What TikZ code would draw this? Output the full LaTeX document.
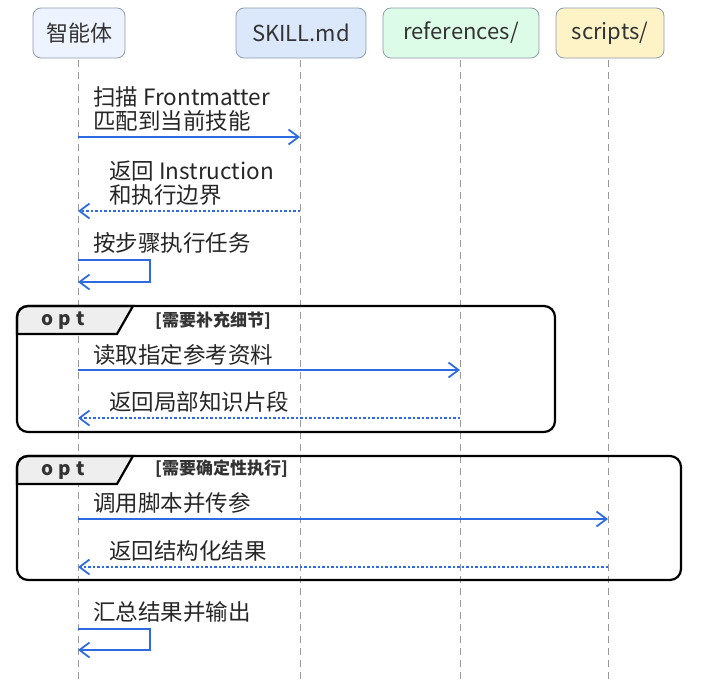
\documentclass[tikz,border=0pt]{standalone}
\usepackage{fontspec}
\setmainfont{Noto Sans CJK SC}
\usetikzlibrary{arrows.meta,positioning}
\definecolor{msgblue}{HTML}{2F6BE0}
\definecolor{hdrline}{HTML}{8F9CB0}
\definecolor{agentfill}{HTML}{EEF4FF}
\definecolor{skillfill}{HTML}{DBE8FC}
\definecolor{reffill}{HTML}{DCFCE7}
\definecolor{scriptfill}{HTML}{FEF3C7}
\definecolor{tabfill}{HTML}{EEEEEE}
\tikzset{
  hdr/.style={draw=hdrline, line width=0.8pt, rounded corners=8pt, minimum height=50pt, inner xsep=10pt, font=\fontsize{22}{26}\selectfont, text=black!80},
  life/.style={gray!80, dash pattern=on 7pt off 5pt, line width=0.7pt},
  msg/.style={msgblue, line width=1.5pt, -{Straight Barb[length=10pt,width=15pt,line width=1.8pt]}},
  ret/.style={msg, dash pattern=on 2.5pt off 2pt},
  lbl/.style={anchor=west, font=\fontsize{22.5}{24}\selectfont, text=black!85, inner sep=0pt, align=left},
  frame/.style={draw=black, line width=2.2pt, rounded corners=11pt},
  tab/.style={line width=2.2pt, fill=tabfill},
  optlbl/.style={font=\bfseries\fontsize{19}{20}\selectfont, text=black!80},
  cond/.style={font=\bfseries\fontsize{17}{19}\selectfont, text=black!80, anchor=west, inner sep=0pt},
}
\begin{document}
\begin{tikzpicture}[x=1pt,y=-1pt]
  \useasboundingbox (0,0) rectangle (707,680);

  % participants
  \node[hdr, fill=agentfill, minimum width=92pt] (agent) at (79,33) {智能体};
  \node[hdr, fill=skillfill, minimum width=130pt] (skill) at (301,33) {SKILL.md};
  \node[hdr, fill=reffill, minimum width=156pt] (refs) at (461,33) {references/};
  \node[hdr, fill=scriptfill, minimum width=108pt] (scripts) at (610,33) {scripts/};

  % lifelines
  \foreach \p/\x in {agent/78,skill/300,refs/460,scripts/608}{
    \coordinate (\p-top) at (\x,60);
    \coordinate (\p-end) at (\x,680);
    \draw[life] (\p-top) -- (\p-end);
  }

  % opt frames
  \draw[tab] (17,334) -- (17,316) [rounded corners=11pt] -- (17,306) [sharp corners] -- (133,306) -- (117,334) -- cycle;
  \draw[frame] (17,306) rectangle (555,432);
  \node[optlbl] (opt1) at (63,321) {o\;p\;t};
  \node[cond] (cond1) at (155,321) {[需要补充细节]};

  \draw[tab] (17,484) -- (17,466) [rounded corners=11pt] -- (17,456) [sharp corners] -- (133,456) -- (117,484) -- cycle;
  \draw[frame] (17,456) rectangle (681,580);
  \node[optlbl] (opt2) at (63,471) {o\;p\;t};
  \node[cond] (cond2) at (155,469) {[需要确定性执行]};

  % messages
  \coordinate (m1a) at (78,137); \coordinate (m1b) at (300,137);
  \node[lbl] (t1) at (93,109) {扫描 Frontmatter\\匹配到当前技能};
  \draw[msg] (m1a) -- (m1b);

  \coordinate (m2a) at (300,211); \coordinate (m2b) at (78,211);
  \node[lbl] (t2) at (109,183) {返回 Instruction\\和执行边界};
  \draw[ret] (m2a) -- (m2b);

  \coordinate (m3a) at (78,260); \coordinate (m3b) at (78,282);
  \node[lbl] (t3) at (93,243) {按步骤执行任务};
  \draw[msg] (m3a) -- ++(72,0) -- ++(0,22) -- (m3b);

  \coordinate (m4a) at (78,370); \coordinate (m4b) at (460,370);
  \node[lbl] (t4) at (93,355) {读取指定参考资料};
  \draw[msg] (m4a) -- (m4b);

  \coordinate (m5a) at (460,418); \coordinate (m5b) at (78,418);
  \node[lbl] (t5) at (109,402) {返回局部知识片段};
  \draw[ret] (m5a) -- (m5b);

  \coordinate (m6a) at (78,519); \coordinate (m6b) at (608,519);
  \node[lbl] (t6) at (93,503) {调用脚本并传参};
  \draw[msg] (m6a) -- (m6b);

  \coordinate (m7a) at (608,567); \coordinate (m7b) at (78,567);
  \node[lbl] (t7) at (109,551) {返回结构化结果};
  \draw[ret] (m7a) -- (m7b);

  \coordinate (m8a) at (78,629); \coordinate (m8b) at (78,650);
  \node[lbl] (t8) at (93,612) {汇总结果并输出};
  \draw[msg] (m8a) -- ++(72,0) -- ++(0,21) -- (m8b);
\end{tikzpicture}
\end{document}
